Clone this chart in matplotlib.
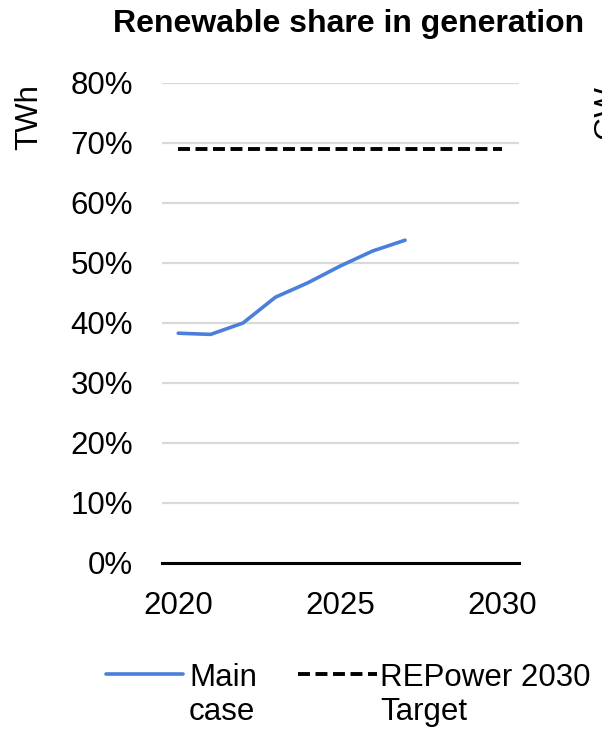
import matplotlib
matplotlib.use("Agg")
import matplotlib.pyplot as plt
from matplotlib.lines import Line2D

plt.rcParams['font.family'] = ['Liberation Sans', 'DejaVu Sans']
plt.rcParams['lines.scale_dashes'] = False

# Data
years = [2020, 2021, 2022, 2023, 2024, 2025, 2026, 2027]
renewable_share = [38.3, 38.1, 40.0, 44.3, 46.7, 49.5, 52.0, 53.8]
target_years = [2020, 2030]
target_share = [69, 69]
y_ticks = [0, 10, 20, 30, 40, 50, 60, 70, 80]
x_ticks = [2020, 2025, 2030]

BLUE = '#4A7FDB'
GRID = '#d9d9d9'
FS = 22.5
W, H = 602, 729
DASH = (0, (8.6, 4.0))

fig = plt.figure(figsize=(W / 100, H / 100), dpi=100)


def fx(px):
    return px / W


def fy(py):
    return 1 - py / H


ax = fig.add_axes([fx(162), fy(563), (518.5 - 162) / W, (563 - 83) / H])

ax.plot(years, renewable_share, color=BLUE, lw=2.6, solid_capstyle='round',
        solid_joinstyle='round', zorder=3)
ax.plot(target_years, target_share, color='black', lw=2.8, linestyle=DASH,
        dash_capstyle='butt', zorder=3)

ax.set_xlim(2019.5, 2030.5)
ax.set_ylim(0, 80)
ax.set_yticks(y_ticks)
ax.set_yticklabels([f"{v}%" for v in y_ticks])
ax.set_xticks(x_ticks)
ax.set_xticklabels([str(v) for v in x_ticks])
ax.tick_params(axis='both', length=0, labelsize=FS, colors='black')
ax.tick_params(axis='y', pad=21)
ax.tick_params(axis='x', pad=20)

ax.yaxis.grid(True, color=GRID, lw=1.6, zorder=0)
ax.set_axisbelow(True)
ax.axhline(0, color='black', lw=2.2, zorder=2, clip_on=False)
for s in ax.spines.values():
    s.set_visible(False)

# Title and axis label
fig.text(fx(348.5), fy(31.7), "Renewable share in generation", ha='center',
         va='baseline', fontsize=23, fontweight='bold')
fig.text(fx(29.5), fy(117), "TWh", rotation=90, ha='center', va='center',
         fontsize=FS)
# Neighbouring panel's axis label, cut at the right edge
fig.text(fx(607), fy(112), "GW", rotation=90, ha='center', va='center',
         fontsize=FS)

# Legend
fig.add_artist(Line2D([fx(106), fx(183)], [fy(674), fy(674)], color=BLUE,
                      lw=2.6, solid_capstyle='round'))
fig.text(fx(189), fy(686), "Main", ha='left', va='baseline', fontsize=FS)
fig.text(fx(189), fy(720), "case", ha='left', va='baseline', fontsize=FS)

fig.add_artist(Line2D([fx(298), fx(377)], [fy(674), fy(674)], color='black',
                      lw=2.8, linestyle=DASH, dash_capstyle='butt'))
fig.text(fx(380), fy(686), "REPower 2030", ha='left', va='baseline', fontsize=FS)
fig.text(fx(380), fy(720), "Target", ha='left', va='baseline', fontsize=FS)

fig.savefig("out.png", dpi=100, facecolor='white')
